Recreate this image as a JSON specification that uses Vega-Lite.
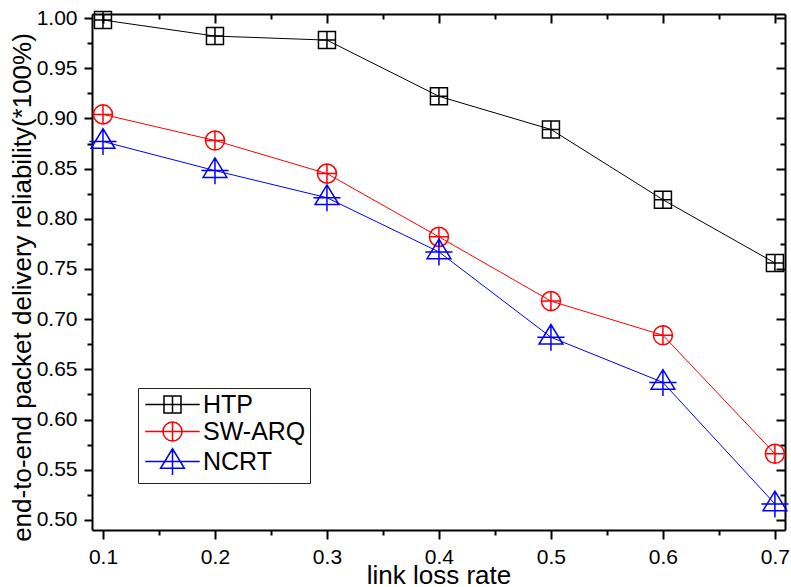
{
  "$schema": "https://vega.github.io/schema/vega-lite/v6.json",
  "width": 693,
  "height": 516,
  "autosize": "none",
  "padding": {"left": 92, "top": 14, "right": 6, "bottom": 57},
  "background": "white",
  "config": {
    "view": {"stroke": null},
    "font": "Liberation Sans",
    "axis": {"grid": false, "domainColor": "black", "domainWidth": 2, "tickColor": "black", "tickWidth": 2, "labelColor": "black", "titleColor": "black", "labelFont": "Liberation Sans", "titleFont": "Liberation Sans", "titleFontWeight": "normal"},
    "legend": {"orient": "none", "legendX": 46, "legendY": 374, "title": null, "labelFontSize": 25, "labelFont": "Liberation Sans", "labelColor": "black", "symbolSize": 289, "symbolStrokeWidth": 1.5, "symbolOffset": 18, "labelOffset": 18, "rowPadding": 0, "padding": 4, "strokeColor": "#222", "fillColor": "white", "cornerRadius": 0, "labelLimit": 300}
  },
  "data": {
    "values": [
      {"x": 0.1, "y": 0.998, "series": "HTP"},
      {"x": 0.2, "y": 0.982, "series": "HTP"},
      {"x": 0.3, "y": 0.978, "series": "HTP"},
      {"x": 0.4, "y": 0.922, "series": "HTP"},
      {"x": 0.5, "y": 0.889, "series": "HTP"},
      {"x": 0.6, "y": 0.819, "series": "HTP"},
      {"x": 0.7, "y": 0.756, "series": "HTP"},
      {"x": 0.1, "y": 0.904, "series": "SW-ARQ"},
      {"x": 0.2, "y": 0.878, "series": "SW-ARQ"},
      {"x": 0.3, "y": 0.845, "series": "SW-ARQ"},
      {"x": 0.4, "y": 0.782, "series": "SW-ARQ"},
      {"x": 0.5, "y": 0.718, "series": "SW-ARQ"},
      {"x": 0.6, "y": 0.684, "series": "SW-ARQ"},
      {"x": 0.7, "y": 0.566, "series": "SW-ARQ"},
      {"x": 0.1, "y": 0.877, "series": "NCRT"},
      {"x": 0.2, "y": 0.848, "series": "NCRT"},
      {"x": 0.3, "y": 0.821, "series": "NCRT"},
      {"x": 0.4, "y": 0.767, "series": "NCRT"},
      {"x": 0.5, "y": 0.682, "series": "NCRT"},
      {"x": 0.6, "y": 0.637, "series": "NCRT"},
      {"x": 0.7, "y": 0.516, "series": "NCRT"}
    ]
  },
  "resolve": {"axis": {"x": "independent", "y": "independent"}, "scale": {"stroke": "independent", "shape": "independent"}},
  "layer": [
    {
      "mark": {"type": "line", "strokeWidth": 1},
      "encoding": {
        "x": {"field": "x", "type": "quantitative", "scale": {"domain": [0.0902, 0.709], "nice": false, "zero": false},
          "axis": {"orient": "bottom", "values": [0.1, 0.2, 0.3, 0.4, 0.5, 0.6, 0.7], "format": ".1f", "tickSize": 9, "labelPadding": 7, "labelFontSize": 21, "title": "link loss rate", "titleFontSize": 26, "titleBaseline": "alphabetic", "titleY": 53}},
        "y": {"field": "y", "type": "quantitative", "scale": {"domain": [0.49, 1.004], "nice": false, "zero": false},
          "axis": {"orient": "left", "values": [0.5, 0.55, 0.6, 0.65, 0.7, 0.75, 0.8, 0.85, 0.9, 0.95, 1.0], "format": ".2f", "tickSize": 8, "labelPadding": 7, "labelFontSize": 21, "title": "end-to-end packet delivery reliability(*100%)", "titleFontSize": 26, "titleBaseline": "alphabetic", "titleX": -62, "titleY": 273}},
        "stroke": {"field": "series", "type": "nominal", "scale": {"domain": ["HTP", "SW-ARQ", "NCRT"], "range": ["#000000", "#ff0000", "#0000ff"]}, "legend": null}
      }
    },
    {
      "mark": {"type": "point", "filled": false, "strokeWidth": 1.5, "size": 289, "opacity": 1},
      "encoding": {
        "x": {"field": "x", "type": "quantitative", "axis": {"orient": "top", "values": [0.1, 0.2, 0.3, 0.4, 0.5, 0.6, 0.7], "tickSize": -9, "labels": false, "title": null}},
        "y": {"field": "y", "type": "quantitative", "axis": {"orient": "right", "values": [0.5, 0.55, 0.6, 0.65, 0.7, 0.75, 0.8, 0.85, 0.9, 0.95, 1.0], "tickSize": -9, "labels": false, "title": null}},
        "stroke": {"field": "series", "type": "nominal", "scale": {"domain": ["HTP", "SW-ARQ", "NCRT"], "range": ["#000000", "#ff0000", "#0000ff"]}, "legend": null},
        "shape": {"field": "series", "type": "nominal", "legend": null,
          "scale": {"domain": ["HTP", "SW-ARQ", "NCRT"], "range": ["M-1,-1H1V1H-1ZM0,-1V1M-1,0H1", "M-1.12,0A1.12,1.12,0,1,1,1.12,0A1.12,1.12,0,1,1,-1.12,0ZM0,-1.12V1.12M-1.12,0H1.12", "M0,-1.5L1.4,0.8H-1.4ZM0,-1.5V1.6M-1.6,0H1.6"]}}
      }
    },
    {
      "transform": [{"filter": "datum.x > 1"}],
      "mark": {"type": "point", "filled": false, "strokeWidth": 1.5, "size": 289, "opacity": 1},
      "encoding": {
        "stroke": {"field": "series", "type": "nominal", "scale": {"domain": ["HTP", "SW-ARQ", "NCRT"], "range": ["#000000", "#ff0000", "#0000ff"]}},
        "shape": {"field": "series", "type": "nominal",
          "scale": {"domain": ["HTP", "SW-ARQ", "NCRT"], "range": ["M-3.2,0H3.2M-1,-1H1V1H-1ZM0,-1V1", "M-3.2,0H3.2M-1.12,0A1.12,1.12,0,1,1,1.12,0A1.12,1.12,0,1,1,-1.12,0M0,-1.12V1.12", "M-3.2,0H3.2M0,-1.5L1.4,0.8H-1.4ZM0,-1.5V1.6"]}}
      }
    },
    {
      "mark": {"type": "point", "opacity": 0},
      "encoding": {
        "x": {"field": "x", "type": "quantitative", "axis": {"orient": "bottom", "values": [0.15, 0.25, 0.35, 0.45, 0.55, 0.65], "tickSize": 5, "labels": false, "domain": false, "title": null}},
        "y": {"field": "y", "type": "quantitative", "axis": {"orient": "left", "values": [0.525, 0.575, 0.625, 0.675, 0.725, 0.775, 0.825, 0.875, 0.925, 0.975], "tickSize": 5, "labels": false, "domain": false, "title": null}}
      }
    },
    {
      "mark": {"type": "point", "opacity": 0},
      "encoding": {
        "x": {"field": "x", "type": "quantitative", "axis": {"orient": "top", "values": [0.15, 0.25, 0.35, 0.45, 0.55, 0.65], "tickSize": -5, "labels": false, "domain": false, "title": null}},
        "y": {"field": "y", "type": "quantitative", "axis": {"orient": "right", "values": [0.525, 0.575, 0.625, 0.675, 0.725, 0.775, 0.825, 0.875, 0.925, 0.975], "tickSize": -5, "labels": false, "domain": false, "title": null}}
      }
    }
  ]
}
